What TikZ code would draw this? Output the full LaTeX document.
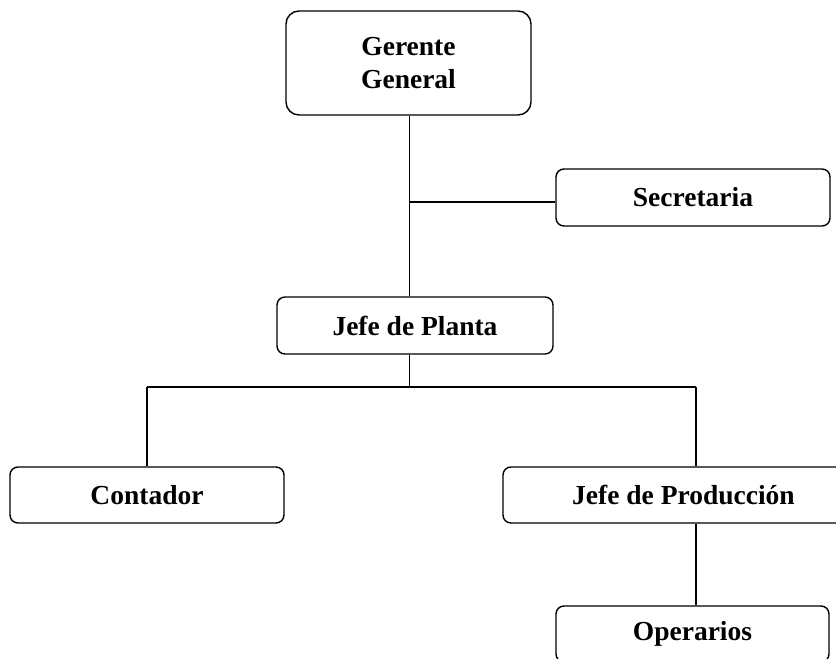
\documentclass[tikz,border=0pt]{standalone}
\usepackage{fontspec}
\setmainfont{Liberation Serif}
\begin{document}
\begin{tikzpicture}[x=1pt,y=-1pt,
  orgbox/.style={draw=black, line width=1.4pt, rounded corners=8pt, fill=white,
    inner sep=0pt, align=center,
    font=\fontsize{27.5}{33}\selectfont\bfseries},
  link/.style={draw=black, line width=1.4pt}]
  \useasboundingbox (0,0) rectangle (836,659);
  \clip (0,0) rectangle (836,659);
  \fill[white] (0,0) rectangle (836,659);

  % boxes of the chart
  \node[orgbox, rounded corners=13pt, minimum width=245pt, minimum height=104pt]
    (gerente) at (408.5,63) {Gerente\\General};
  \node[orgbox, minimum width=274pt, minimum height=57pt]
    (secretaria) at (693,197.5) {Secretaria};
  \node[orgbox, minimum width=276pt, minimum height=57pt]
    (planta) at (415,325.5) {Jefe de Planta};
  \node[orgbox, minimum width=274pt, minimum height=56pt]
    (contador) at (147,495) {Contador};
  \node[orgbox, minimum width=361pt, minimum height=56pt]
    (produccion) at (683.5,495) {Jefe de Producción};
  \node[orgbox, minimum width=273pt, minimum height=56pt]
    (operarios) at (692.5,634) {Operarios};

  % junction points of the connectors
  \coordinate (sec) at (409.5,202);
  \coordinate (bus) at (409.5,387);
  \coordinate (busr) at (696,387);

  % connectors
  \draw[link] (gerente.south -| sec) -- (sec |- planta.north);
  \draw[link] (sec) -- (sec -| secretaria.west);
  \draw[link] (planta.south -| bus) -- (bus);
  \draw[link] (contador.north |- bus) -- (busr);
  \draw[link] (contador.north |- bus) -- (contador.north);
  \draw[link] (busr) -- (busr |- produccion.north);
  \draw[link] (produccion.south -| busr) -- (busr |- operarios.north);
\end{tikzpicture}
\end{document}
